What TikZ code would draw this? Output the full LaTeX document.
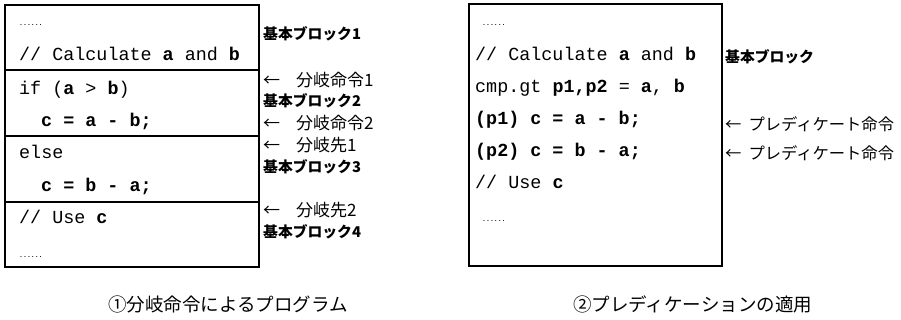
\documentclass[tikz,border=0pt]{standalone}
\usepackage{fontspec}
\setmonofont{Liberation Mono}
\newfontfamily\jp{Noto Sans CJK JP}
\begin{document}
\begin{tikzpicture}[x=1pt,y=-1pt,
  code/.style={font=\ttfamily\fontsize{18.4}{20}\selectfont, inner sep=0pt, anchor=base west},
  dotrow/.style={font=\ttfamily\bfseries\fontsize{6.5}{7}\selectfont, inner sep=0pt, anchor=base west},
  lbl/.style={font=\jp\fontsize{17}{19}\selectfont, inner sep=0pt, anchor=west},
  lblr/.style={font=\jp\fontsize{16.3}{19}\selectfont, inner sep=0pt, anchor=west},
  lblb/.style={font=\jp\bfseries\fontsize{14.8}{17}\selectfont, inner sep=0pt, anchor=west},
  captxt/.style={font=\jp\fontsize{18.5}{20}\selectfont, inner sep=0pt, anchor=west},
  frame/.style={draw, line width=1.2pt}]
\useasboundingbox (0,0) rectangle (901,320);
% left box
\draw[frame] (5,5) rectangle (259,267);
\draw[frame] (5,70) -- (259,70);
\draw[frame] (5,136) -- (259,136);
\draw[frame] (5,202) -- (259,202);
\node[dotrow] (l0) at (19,26) {......};
\node[code] (l1) at (19,61) {// Calculate \textbf{a} and \textbf{b}};
\node[code] (l2) at (19,95) {if (\textbf{a} > \textbf{b})};
\node[code] (l3) at (41,127) {\textbf{c = a - b;}};
\node[code] (l4) at (19,159) {else};
\node[code] (l5) at (41,192) {\textbf{c = b - a;}};
\node[code] (l6) at (19,224) {// Use \textbf{c}};
\node[dotrow] (l7) at (19,257) {......};
% left labels
\node[lblb] (b1) at (263,34) {基本ブロック1};
\node[lbl] (j1) at (263,80) {←\hspace{16pt}分岐命令1};
\node[lblb] (b2) at (263,101) {基本ブロック2};
\node[lbl] (j2) at (263,123) {←\hspace{16pt}分岐命令2};
\node[lbl] (t1) at (263,145) {←\hspace{16pt}分岐先1};
\node[lblb] (b3) at (263,167) {基本ブロック3};
\node[lbl] (t2) at (263,210) {←\hspace{16pt}分岐先2};
\node[lblb] (b4) at (263,232) {基本ブロック4};
% right box
\draw[frame] (469,4) rectangle (722,266);
\node[dotrow] (r0) at (482,26) {......};
\node[code] (r1) at (475,61) {// Calculate \textbf{a} and \textbf{b}};
\node[code] (r2) at (475,93) {cmp.gt \textbf{p1,p2} = \textbf{a}, \textbf{b}};
\node[code] (r3) at (475,125) {\textbf{(p1) c = a - b;}};
\node[code] (r4) at (475,157) {\textbf{(p2) c = b - a;}};
\node[code] (r5) at (475,189) {// Use \textbf{c}};
\node[dotrow] (r6) at (482,222) {......};
% right labels
\node[lblb] (rb) at (725,57) {基本ブロック};
\node[lblr] (rp1) at (725,124) {←\hspace{7pt}プレディケート命令};
\node[lblr] (rp2) at (725,153) {←\hspace{7pt}プレディケート命令};
% captions
\node[captxt] (c1) at (108,304) {①分岐命令によるプログラム};
\node[captxt] (c2) at (573,304) {②プレディケーションの適用};
\end{tikzpicture}
\end{document}
